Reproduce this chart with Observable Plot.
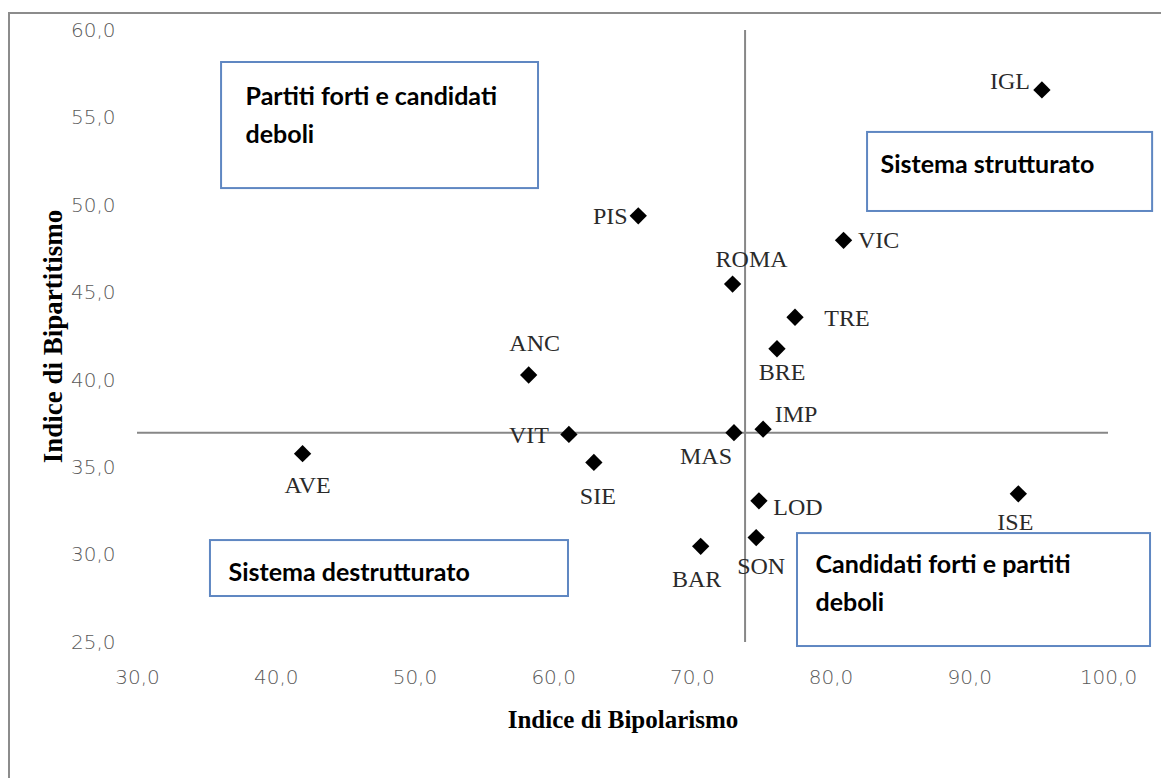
<!DOCTYPE html>
<html><head><meta charset="utf-8">
<script src="https://cdn.jsdelivr.net/npm/d3@7"></script>
<script src="https://cdn.jsdelivr.net/npm/@observablehq/plot@0.6"></script>
<style>
html,body{margin:0;padding:0;background:#fff;}
#wrap{position:relative;width:1161px;height:778px;overflow:hidden;}
#border{position:absolute;left:8px;top:12px;width:1200px;height:800px;border-left:2px solid #8c8c8c;border-top:2px solid #8c8c8c;}
#chart{position:absolute;left:0;top:0;}
#chart g[aria-label="x-axis tick label"] text,
#chart g[aria-label="y-axis tick label"] text{fill:#595959;font-family:"DejaVu Sans";font-weight:200;font-size:20px;}
</style></head><body>
<div id="wrap"><div id="border"></div><div id="chart"></div></div>
<script>
// ---- data ----
const cities = ["IGL","VIC","PIS","ROMA","TRE","BRE","ANC","VIT","SIE","MAS","IMP","LOD","AVE","ISE","BAR","SON"];
const bipolarismo = [95.2,80.9,66.1,72.9,77.4,76.1,58.2,61.1,62.9,73.0,75.1,74.8,41.9,93.5,70.6,74.6];
const bipartitismo = [56.6,48.0,49.4,45.5,43.6,41.8,40.3,36.9,35.3,37.0,37.2,33.1,35.8,33.5,30.5,31.0];
const meanBipolarismo = 73.8;
const meanBipartitismo = 37.0;
const xTicks = [30,40,50,60,70,80,90,100];
const yTicks = [25,30,35,40,45,50,55,60];
const xTitle = "Indice di Bipolarismo";
const yTitle = "Indice di Bipartitismo";
// quadrant annotation boxes (in data units)
const boxLabels = ["Partiti forti e candidati\ndeboli","Sistema strutturato","Sistema destrutturato","Candidati forti e partiti\ndeboli"];
const boxX1 = [36.06, 82.63, 35.26, 77.58];
const boxX2 = [58.91, 103.18, 61.07, 103.03];
const boxTop = [58.17, 54.17, 30.83, 31.23];
const boxBottom = [50.96, 49.65, 27.63, 24.77];

// ---- layout (pixel offsets of labels) ----
const labelOffsets = [[-32,-9],[35,0],[-28,0],[19,-25],[52,1],[5,24],[6,-32],[-40,1],[4,34],[-28,24],[33,-15],[39,6],[5,32],[-3,28],[-4,33],[5,29]];
const boxTextOffsets = [[24,16],[13,14],[18,14],[18,13]];

const points = cities.map((c,i)=>({city:c, x:bipolarismo[i], y:bipartitismo[i]}));
const boxes = boxLabels.map((t,i)=>({text:t, x1:boxX1[i], x2:boxX2[i], y1:boxTop[i], y2:boxBottom[i]}));
const fmt = d => d3.format(".1f")(d).replace(".", ",");
const xMin = d3.min(xTicks), xMax = d3.max(xTicks), yMin = d3.min(yTicks), yMax = d3.max(yTicks);

const labelFont = {fontFamily:"Liberation Serif", fontSize:24, fill:"#2a2a2a"};

const chart = Plot.plot({
  width: 1161, height: 778,
  marginLeft: 137, marginRight: 53, marginTop: 30, marginBottom: 136,
  x: {domain:[xMin,xMax]},
  y: {domain:[yMin,yMax]},
  style: {background:"transparent", overflow:"visible"},
  marks: [
    Plot.axisX(xTicks, {tickSize:0, tickPadding:27, tickFormat:fmt, label:null}),
    Plot.axisY(yTicks, {tickSize:0, tickPadding:22, tickFormat:fmt, label:null}),
    Plot.ruleY([meanBipartitismo], {x1:xMin, x2:xMax, stroke:"#878787", strokeWidth:2}),
    Plot.ruleX([meanBipolarismo], {y1:yMin, y2:yMax, stroke:"#878787", strokeWidth:2}),
    Plot.rect(boxes, {x1:"x1", x2:"x2", y1:"y1", y2:"y2", fill:"white", stroke:"#5f87c2", strokeWidth:2}),
    ...boxes.map((b,i)=>Plot.text([b], {x:"x1", y:"y1", text:"text", textAnchor:"start", lineAnchor:"top",
        dx:boxTextOffsets[i][0], dy:boxTextOffsets[i][1], lineHeight:1.5,
        fontFamily:"Lato", fontWeight:"bold", fontSize:25, fill:"#000"})),
    Plot.dot(points, {x:"x", y:"y", symbol:"diamond2", r:7.8, fill:"#000", stroke:"none"}),
    ...points.map((p,i)=>Plot.text([p], {x:"x", y:"y", text:"city", dx:labelOffsets[i][0], dy:labelOffsets[i][1], ...labelFont})),
    Plot.text([xTitle], {text:d=>d, frameAnchor:"bottom", textAnchor:"middle", lineAnchor:"middle", dy:77, fontFamily:"Liberation Serif", fontWeight:"bold", fontSize:25, fill:"#000"}),
    Plot.text([yTitle], {text:d=>d, frameAnchor:"left", textAnchor:"middle", lineAnchor:"middle", dx:-84, rotate:-90, fontFamily:"Liberation Serif", fontWeight:"bold", fontSize:27, fill:"#000"})
  ]
});
document.getElementById("chart").appendChild(chart);
</script>
</body></html>
